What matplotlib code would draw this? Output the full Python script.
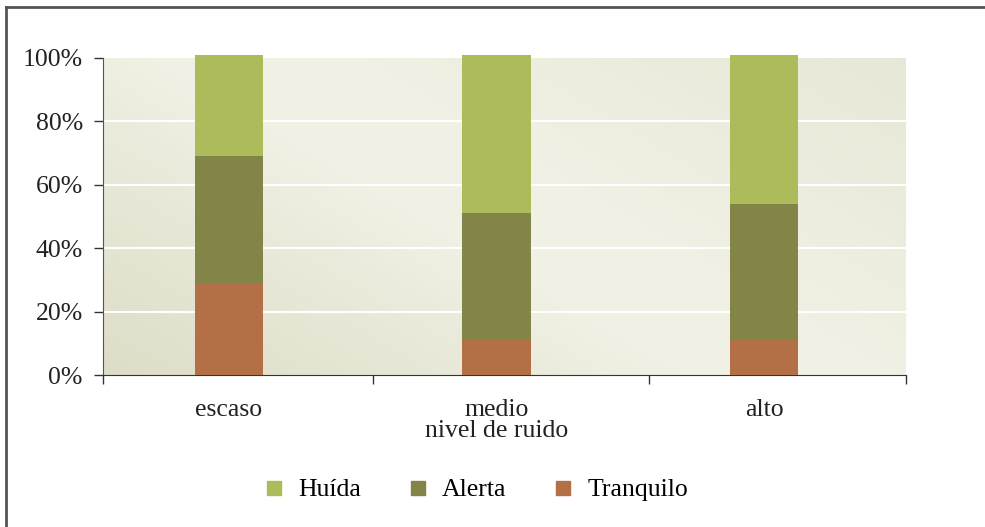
import numpy as np
import matplotlib.pyplot as plt
from matplotlib.lines import Line2D

plt.rcParams['font.family'] = ['Liberation Serif', 'DejaVu Serif']

categories = ["escaso", "medio\nnivel de ruido", "alto"]
tranquilo = [29, 11, 11]
alerta = [40, 40, 43]
huida = [32, 50, 47]
yticks = [0, 20, 40, 60, 80, 100]

col_huida = "#adbb5a"
col_alerta = "#828448"
col_tranq = "#b36f46"
fs = 18.5

fig = plt.figure(figsize=(9.85, 5.27), dpi=100)
ax = fig.add_axes([103/985, 1-375/527, (906-103)/985, (375-58)/527])

# soft gradient background
ny, nx = 200, 400
xx, yy = np.meshgrid(np.linspace(0, 1, nx), np.linspace(1, 0, ny))
u = 0.6*xx + 0.4*yy
w = np.where(u < 0.45, (0.45 - u)/0.45, 0.45*np.clip((u - 0.55)/0.45, 0, 1))
light = np.array([0.945, 0.945, 0.9])
dark = np.array([0.865, 0.865, 0.78])
img = light[None, None, :]*(1 - w[..., None]) + dark[None, None, :]*w[..., None]
ax.imshow(img, extent=[0, 1, 0, 1], transform=ax.transAxes, aspect='auto', zorder=0)

x = np.arange(len(categories)) + 0.5
bw = 0.255
bottom2 = np.array(tranquilo) + np.array(alerta)
ax.bar(x, tranquilo, width=bw, color=col_tranq, zorder=3, clip_on=False)
ax.bar(x, alerta, width=bw, bottom=tranquilo, color=col_alerta, zorder=3, clip_on=False)
ax.bar(x, huida, width=bw, bottom=bottom2, color=col_huida, zorder=3, clip_on=False)

ax.set_xlim(0.03, 3.03)
ax.set_ylim(0, 100)
ax.set_yticks(yticks)
ax.set_yticklabels([f"{v}%" for v in yticks], fontsize=fs)
for v in yticks[1:-1]:
    ax.axhline(v, color="white", lw=1.5, zorder=1)

ax.set_xticks([0.03, 1.04, 2.07, 3.03])
ax.set_xticklabels([])
ax.set_xticks(x, minor=True)
ax.set_xticklabels(categories, minor=True, fontsize=fs, linespacing=0.95)
ax.tick_params(axis='x', which='minor', length=0, pad=17)
ax.tick_params(axis='x', which='major', length=6.5, width=1, color="#333333", direction='out')
ax.tick_params(axis='y', length=6.5, width=1, color="#333333", pad=8, labelcolor="#222222")
for lab in ax.get_xticklabels(minor=True):
    lab.set_verticalalignment('top')
    lab.set_color("#222222")

for s in ["top", "right"]:
    ax.spines[s].set_visible(False)
ax.spines["left"].set_color("#555555")
ax.spines["bottom"].set_color("#333333")

handles = [Line2D([], [], marker='s', ls='', color=c, markersize=9.5) for c in (col_huida, col_alerta, col_tranq)]
fig.legend(handles, ["Huída", "Alerta", "Tranquilo"], loc='center', bbox_to_anchor=(476/985, 1-490/527),
           ncol=3, frameon=False, fontsize=fs, handlelength=0.8, handletextpad=0.55, columnspacing=1.8)

# frame lines on top and left
fig.add_artist(Line2D([6/985, 1], [1-7/527, 1-7/527], color="#555555", lw=2))
fig.add_artist(Line2D([6/985, 6/985], [0, 1-7/527], color="#555555", lw=2))

fig.savefig("out.png", dpi=100)
